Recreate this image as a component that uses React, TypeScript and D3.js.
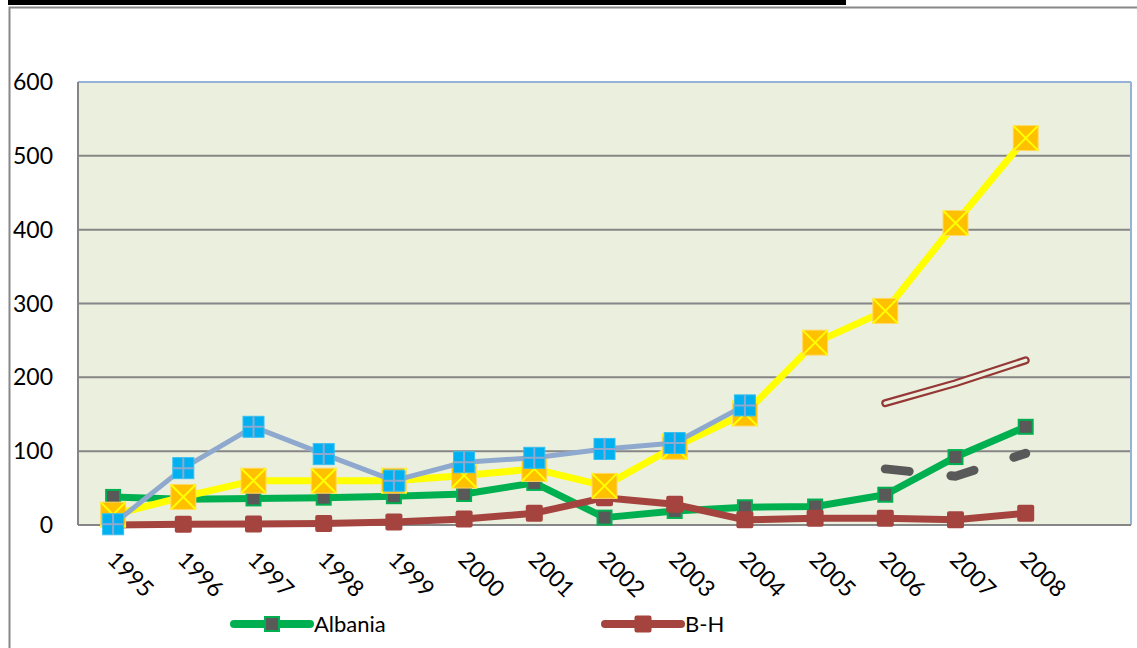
import React from "react";
import * as d3 from "d3";

const years = ["1995","1996","1997","1998","1999","2000","2001","2002","2003","2004","2005","2006","2007","2008"];
const yTicks = [0, 100, 200, 300, 400, 500, 600];
const albania: (number | null)[] = [38, 35, 36, 37, 39, 42, 57, 10, 19, 24, 25, 41, 92, 133];
const bh: (number | null)[] = [0, 1, 1.5, 2, 4, 8, 16, 37, 28, 7, 9, 9, 7, 16];
const yellowSeries: (number | null)[] = [14, 38, 60, 60, 60, 67, 76, 53, 106, 151, 247, 290, 409, 524];
const blueSeries: (number | null)[] = [1, 77, 133, 96, 60, 85, 91, 103, 111, 162, null, null, null, null];
const greyDashed: (number | null)[] = [null, null, null, null, null, null, null, null, null, null, null, 76, 66, 97];
const redDouble: (number | null)[] = [null, null, null, null, null, null, null, null, null, null, null, 165, 192, 223];
const legendItems = ["Albania", "B-H"];

const W = 1137, H = 648;
const PL = 78, PR = 1131, PT = 82, PB = 525;
const FONT = "Lato, 'Open Sans', sans-serif";

export default function App() {
  const x = d3.scaleLinear().domain([-0.5, 14.5]).range([PL, PR]);
  const y = d3.scaleLinear().domain([0, 600]).range([PB, PT]);
  const line = d3.line<number | null>()
    .defined((d) => d !== null)
    .x((_, i) => x(i))
    .y((d) => y(d as number));

  const sqMarker = (cx: number, cy: number, key: string, type: string) => {
    if (type === "green") {
      return <rect key={key} x={cx - 7} y={cy - 7} width={14} height={14} fill="#595959" stroke="#00B050" strokeWidth={2} />;
    }
    if (type === "red") {
      return <rect key={key} x={cx - 8.5} y={cy - 8.5} width={17} height={17} rx={2} fill="#A5443F" />;
    }
    if (type === "yellow") {
      const s = 12.5;
      return (
        <g key={key}>
          <rect x={cx - s} y={cy - s} width={2 * s} height={2 * s} fill="#FFC000" stroke="#FFD966" strokeWidth={1} />
          <path d={`M${cx - s},${cy - s}L${cx + s},${cy + s}M${cx + s},${cy - s}L${cx - s},${cy + s}`} stroke="#FFFF00" strokeWidth={2} />
        </g>
      );
    }
    const s = 10.5;
    return (
      <g key={key}>
        <rect x={cx - s} y={cy - s} width={2 * s} height={2 * s} fill="#00B0F0" stroke="#33C0F3" strokeWidth={1} />
        <path d={`M${cx},${cy - s}L${cx},${cy + s}M${cx - s},${cy}L${cx + s},${cy}`} stroke="#8EA9CD" strokeWidth={2} />
      </g>
    );
  };

  const markers = (data: (number | null)[], type: string) =>
    data.map((d, i) => (d === null ? null : sqMarker(x(i), y(d), `${type}${i}`, type)));

  const legendX = [234, 605];

  return (
    <svg width={W} height={H} style={{ position: "absolute", left: 0, top: 0, background: "#fff" }}>
      {/* clipped title underline */}
      <rect x={8} y={0} width={838} height={5} fill="#000" />
      {/* chart frame */}
      <path d={`M9.5,${H}L9.5,7.5L${W},7.5`} fill="none" stroke="#888" strokeWidth={2} />
      {/* plot area */}
      <rect x={PL} y={PT} width={PR - PL} height={PB - PT} fill="#EBEFDE" />
      {yTicks.map((t) => (
        <line key={`g${t}`} x1={PL} x2={PR} y1={y(t)} y2={y(t)} stroke="#868686" strokeWidth={2} />
      ))}
      <line x1={PL} x2={PR} y1={PT} y2={PT} stroke="#95B3D7" strokeWidth={2} />
      <line x1={PR} x2={PR} y1={PT} y2={PB} stroke="#95B3D7" strokeWidth={2} />
      <line x1={PL} x2={PL} y1={PT} y2={PB} stroke="#868686" strokeWidth={2} />
      <line x1={PL} x2={PR} y1={PB} y2={PB} stroke="#868686" strokeWidth={2} />
      {/* y labels */}
      {yTicks.map((t) => (
        <text key={`yl${t}`} x={53} y={y(t) + 8} textAnchor="end" fontFamily={FONT} fontSize={23} fill="#000">{t}</text>
      ))}
      {/* x labels */}
      {years.map((yr, i) => (
        <text key={`xl${yr}`} transform={`translate(${x(i) - 7},${561}) rotate(45)`} fontFamily={FONT} fontSize={23} fill="#000">{yr}</text>
      ))}
      {/* extra partial series */}
      <path d={line(redDouble) || ""} fill="none" stroke="#953735" strokeWidth={8} strokeLinecap="round" strokeLinejoin="round" />
      <path d={line(redDouble) || ""} fill="none" stroke="#EBEFDE" strokeWidth={3.5} strokeLinecap="round" strokeLinejoin="round" />
      <path d={line(greyDashed) || ""} fill="none" stroke="#595959" strokeWidth={9} strokeLinecap="round" strokeDasharray="24 42" />
      {/* Albania */}
      <path d={line(albania) || ""} fill="none" stroke="#00B050" strokeWidth={7} strokeLinejoin="round" />
      {markers(albania, "green")}
      {/* B-H */}
      <path d={line(bh) || ""} fill="none" stroke="#A5443F" strokeWidth={7} strokeLinejoin="round" />
      {markers(bh, "red")}
      {/* yellow */}
      <path d={line(yellowSeries) || ""} fill="none" stroke="#FFFF00" strokeWidth={7} strokeLinejoin="round" />
      {markers(yellowSeries, "yellow")}
      {/* blue */}
      <path d={line(blueSeries) || ""} fill="none" stroke="#8EA9CD" strokeWidth={5} strokeLinejoin="round" />
      {markers(blueSeries, "blue")}
      {/* legend */}
      {legendItems.map((name, i) => {
        const lx = legendX[i];
        const ly = 624;
        const col = i === 0 ? "#00B050" : "#A5443F";
        return (
          <g key={name}>
            <line x1={lx} x2={lx + 76} y1={ly} y2={ly} stroke={col} strokeWidth={8} strokeLinecap="round" />
            {sqMarker(lx + 38, ly, `leg${i}`, i === 0 ? "green" : "red")}
            <text x={lx + 80} y={ly + 8} fontFamily={FONT} fontSize={22} fill="#000">{name}</text>
          </g>
        );
      })}
    </svg>
  );
}
